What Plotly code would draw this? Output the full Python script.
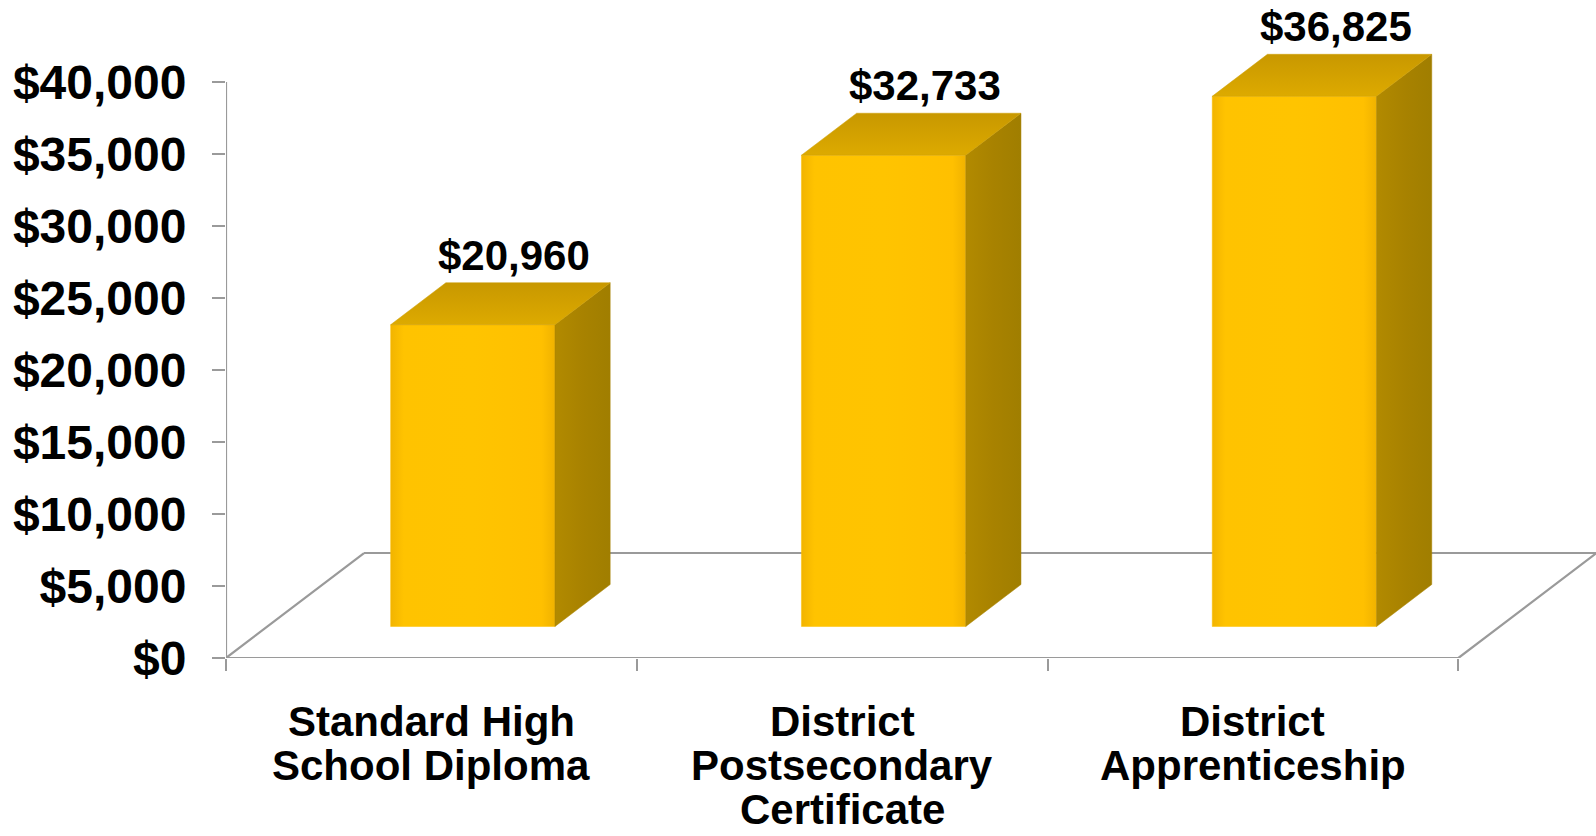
import plotly.graph_objects as go

# Average earnings by completion type
CATEGORIES = ["Standard High<br>School Diploma",
              "District<br>Postsecondary<br>Certificate",
              "District<br>Apprenticeship"]
VALUES = [20960, 32733, 36825]
Y_TICKS = [0, 5000, 10000, 15000, 20000, 25000, 30000, 35000, 40000]

# Oblique projection of the depth axis onto the x (category units) / y (value units) plane
DEPTH_DX = 0.336
DEPTH_DY = 7292
BAR_WIDTH = 0.4      # share of a category slot
BAR_Z0, BAR_Z1 = 0.3, 0.7   # bar depth range (0 = front, 1 = back of floor)

FRONT = "#FFC000"
SIDE = "#A88200"
TOP = "#CC9C00"
LINE = "#9A9A9A"
FONT = "Liberation Sans, Arial, sans-serif"

fig = go.Figure()

n = len(CATEGORIES)

# floor outline
fig.add_trace(go.Scatter(
    x=[DEPTH_DX, 0, n, n + DEPTH_DX, DEPTH_DX],
    y=[DEPTH_DY, 0, 0, DEPTH_DY, DEPTH_DY],
    mode="lines", line=dict(color=LINE, width=2.2),
    hoverinfo="skip", showlegend=False))


def poly(xs, ys, color, grad=None):
    kw = dict(fillcolor=color)
    if grad is not None:
        kw = dict(fillgradient=grad)
    fig.add_trace(go.Scatter(
        x=xs + [xs[0]], y=ys + [ys[0]], mode="lines", fill="toself",
        line=dict(width=0.5, color=color), hoverinfo="skip",
        showlegend=False, **kw))


dz = BAR_Z1 - BAR_Z0
for i, v in enumerate(VALUES):
    c = i + 0.5
    xl = c - BAR_WIDTH / 2 + BAR_Z0 * DEPTH_DX
    xr = c + BAR_WIDTH / 2 + BAR_Z0 * DEPTH_DX
    yb = BAR_Z0 * DEPTH_DY
    yt = yb + v
    ox, oy = dz * DEPTH_DX, dz * DEPTH_DY
    # front face
    poly([xl, xr, xr, xl], [yb, yb, yt, yt], FRONT,
         dict(type="horizontal",
              colorscale=[[0, "#F2B400"], [0.08, "#FFC300"], [0.5, "#FFC400"],
                          [0.92, "#FFC000"], [1, "#F0B200"]]))
    # side face
    poly([xr, xr + ox, xr + ox, xr], [yb, yb + oy, yt + oy, yt], SIDE,
         dict(type="horizontal",
              colorscale=[[0, "#B28A00"], [0.5, "#A88200"], [1, "#A07E00"]]))
    # top face
    poly([xl, xr, xr + ox, xl + ox], [yt, yt, yt + oy, yt + oy], TOP,
         dict(type="vertical",
              colorscale=[[0, "#DDAA00"], [1, "#C89800"]]))
    # value label
    fig.add_annotation(x=c + 0.6 * DEPTH_DX, y=yt + (0.6 - BAR_Z0) * DEPTH_DY,
                       xref="x", yref="y", text=f"${v:,}", showarrow=False,
                       yanchor="middle", yshift=38,
                       font=dict(family=FONT, size=42, color="black", weight="bold"))
    # category label, one annotation per line
    for k, line in enumerate(CATEGORIES[i].split("<br>")):
        fig.add_annotation(x=c, y=0, xref="x", yref="y", text=line,
                           showarrow=False, yanchor="middle",
                           yshift=-(63 + 44 * k),
                           font=dict(family=FONT, size=42, color="black",
                                     weight="bold"))

# value axis line
fig.add_shape(type="line", xref="x", yref="y", x0=0, x1=0, y0=0, y1=Y_TICKS[-1],
              line=dict(color=LINE, width=2.2))

fig.update_xaxes(range=[0, 3.335], showgrid=False, zeroline=False,
                 showticklabels=False, ticks="",
                 minor=dict(tickmode="array", tickvals=list(range(n + 1)),
                            ticks="outside", ticklen=12, tickwidth=2,
                            tickcolor=LINE, showgrid=False))
fig.update_yaxes(range=[0, 45700], showgrid=False, zeroline=False, showline=False,
                 tickmode="array", tickvals=Y_TICKS,
                 ticktext=[f"${t:,}" for t in Y_TICKS],
                 ticks="outside", ticklen=13, tickwidth=2, tickcolor=LINE,
                 ticklabelstandoff=16,
                 tickfont=dict(family=FONT, size=48, color="black", weight="bold"))

fig.update_layout(width=1596, height=836,
                  margin=dict(l=226, r=0, t=0, b=178),
                  paper_bgcolor="white", plot_bgcolor="white")

fig.write_html("out.html")
